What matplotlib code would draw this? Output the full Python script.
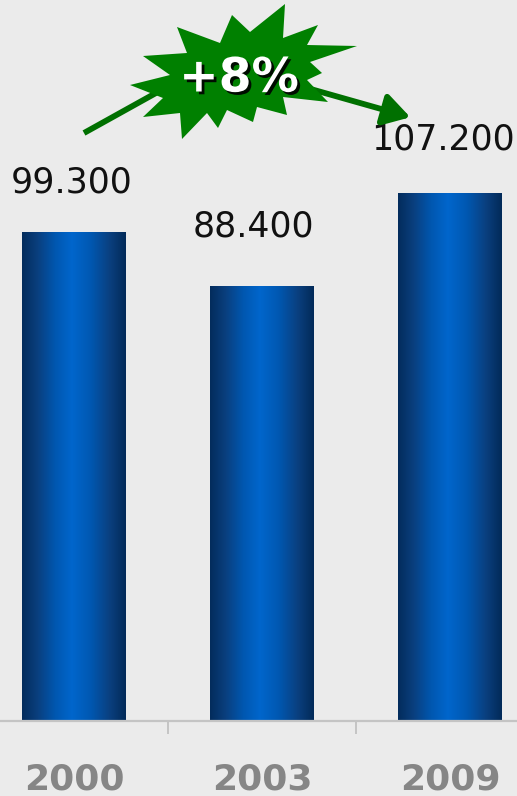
import numpy as np
import matplotlib
matplotlib.use("Agg")
import matplotlib.pyplot as plt
from matplotlib.colors import LinearSegmentedColormap
from matplotlib.patches import Polygon, FancyArrowPatch
import matplotlib.patheffects as pe

# ---- data ----
categories = ["2000", "2003", "2009"]
values = [99.3, 88.4, 107.2]
value_labels = ["99.300", "88.400", "107.200"]
badge_text = "+8%"

BG = "#ebebeb"
W, H, DPI = 517, 796, 100
fig = plt.figure(figsize=(W / DPI, H / DPI), dpi=DPI, facecolor=BG)

# main axes (extends slightly beyond the figure horizontally, like the reference crop)
left_px, right_px = -20, 544
bottom_px = 721
ax = fig.add_axes([left_px / W, (H - bottom_px) / H, (right_px - left_px) / W, bottom_px / H])
ax.set_facecolor(BG)

x = np.arange(len(categories))
bw = 0.553
bars = ax.bar(x, values, width=bw, color="none", edgecolor="none", zorder=2)

cmap = LinearSegmentedColormap.from_list(
    "barg",
    [(0.0, "#032c5c"), (0.15, "#0a3f7e"), (0.32, "#0057b0"), (0.48, "#0066cc"),
     (0.66, "#0058b2"), (0.85, "#0a3f7e"), (1.0, "#022a58")])
grad = np.linspace(0, 1, 256).reshape(1, -1)
for r in bars:
    x0, w, h = r.get_x(), r.get_width(), r.get_height()
    ax.imshow(grad, extent=[x0, x0 + w, 0, h], aspect="auto", cmap=cmap,
              zorder=2, interpolation="bicubic")

ax.set_xlim(-0.5, len(categories) - 0.5)
ax.set_ylim(0, bottom_px / 4.92)

# value labels (pixel offsets of label centre relative to bar top centre)
label_dx = [-2, -9, -7]
label_dy = [50, 60, 54]
for xi, v, lab, dx, dy in zip(x, values, value_labels, label_dx, label_dy):
    ax.annotate(lab, (xi, v), xytext=(dx * 72 / DPI, dy * 72 / DPI), textcoords="offset points",
                ha="center", va="center", fontsize=25, color="#111111",
                family="DejaVu Sans")

# axis styling
for s in ["top", "right", "left"]:
    ax.spines[s].set_visible(False)
ax.spines["bottom"].set_color("#c4c4c4")
ax.spines["bottom"].set_linewidth(1.6)
ax.set_yticks([])
ax.set_xticks(x[:-1] + 0.5)
ax.set_xticklabels([])
ax.tick_params(axis="x", direction="out", length=9, width=1.4, color="#c4c4c4")
for xi, c in zip(x, categories):
    ax.annotate(c, (xi, 0), xytext=(0, -58 * 72 / DPI), textcoords="offset points",
                ha="center", va="center", fontsize=26, fontweight="bold",
                color="#868686", family="DejaVu Sans", annotation_clip=False)

# overlay in pixel coordinates for the decoration (starburst + arrows)
ov = fig.add_axes([0, 0, 1, 1])
ov.set_xlim(0, W)
ov.set_ylim(H, 0)
ov.axis("off")
ov.patch.set_alpha(0)

# left arrow shaft
ov.plot([84, 165], [133, 88], color="#007000", lw=4.2, solid_capstyle="butt", zorder=1)
# right arrow
arr = FancyArrowPatch((300, 86), (413, 118), arrowstyle="-|>,head_length=10,head_width=6",
                      color="#007000", lw=4.2, mutation_scale=1.6, zorder=1)
ov.add_patch(arr)

# starburst outline (decoration, pixel coordinates)
star = [(285, 4), (283, 38), (318, 25), (307, 45), (357, 46), (310, 62), (322, 73),
        (307, 80), (328, 102), (283, 97), (287, 115), (257, 107), (253, 122),
        (227, 110), (218, 128), (207, 113), (182, 139), (180, 113), (143, 117),
        (163, 98), (130, 85), (170, 75), (143, 56), (187, 53), (177, 27),
        (220, 43), (232, 15), (250, 32)]
ov.add_patch(Polygon(star, closed=True, facecolor="#008000", edgecolor="none", zorder=2))

ov.text(239, 79, badge_text, ha="center", va="center", fontsize=34, fontweight="bold",
        color="white", family="DejaVu Sans", zorder=3,
        path_effects=[pe.withSimplePatchShadow(offset=(2, -2), shadow_rgbFace="black", alpha=0.9)])

fig.savefig("out.png", dpi=DPI, facecolor=BG)
